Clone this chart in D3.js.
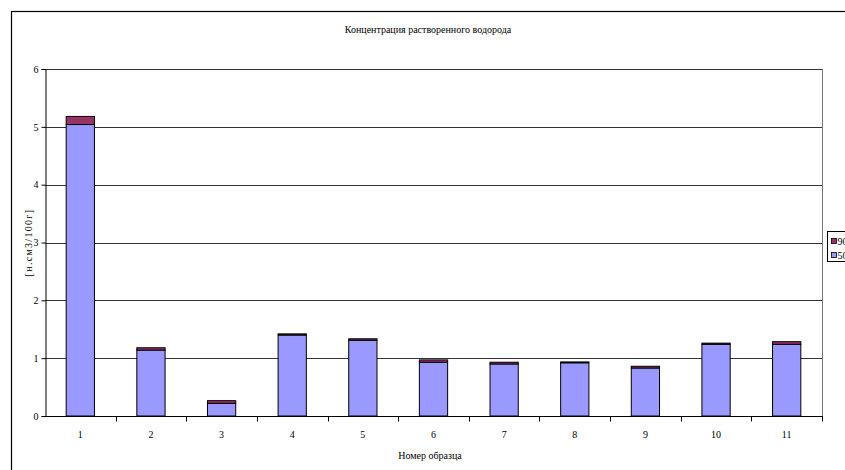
<!DOCTYPE html>
<html>
<head>
<meta charset="utf-8">
<script src="https://cdn.jsdelivr.net/npm/d3@7"></script>
<style>
  html, body { margin: 0; padding: 0; background: #fff; overflow: hidden; }
  svg { display: block; font-family: "Liberation Serif", "Times New Roman", serif; }
</style>
</head>
<body>
<svg id="chart" width="845" height="470"></svg>
<script>
// Sample numbers along the x axis
const samples = ["1", "2", "3", "4", "5", "6", "7", "8", "9", "10", "11"];
// Dissolved hydrogen, lower (blue) stack segment
const series500 = [5.04, 1.14, 0.22, 1.40, 1.31, 0.93, 0.90, 0.92, 0.83, 1.24, 1.24];
// Dissolved hydrogen, upper (crimson) stack segment
const series900 = [0.14, 0.04, 0.045, 0.02, 0.025, 0.04, 0.03, 0.015, 0.03, 0.02, 0.045];
const seriesNames = ["900 °C", "500 °C"];
const yTicks = [0, 1, 2, 3, 4, 5, 6];

const titleText = "Концентрация растворенного водорода";
const xTitle = "Номер образца";
const yTitle = "[н.см3/100г]";

const svg = d3.select("#chart");

// outer chart frame (extends past the right and bottom edges)
svg.append("rect")
  .attr("x", 11.5).attr("y", 11.5)
  .attr("width", 900).attr("height", 500)
  .attr("fill", "#fff").attr("stroke", "#000").attr("stroke-width", 1.2);

const plot = { left: 45, right: 822, top: 69, bottom: 416 };

const x = d3.scaleBand()
  .domain(samples)
  .range([plot.left, plot.right])
  .paddingInner(0.6)
  .paddingOuter(0.3);

const y = d3.scaleLinear().domain([0, 6]).range([plot.bottom, plot.top]);

// horizontal gridlines
svg.append("g")
  .selectAll("line")
  .data(yTicks.filter(d => d > 0))
  .join("line")
  .attr("x1", plot.left).attr("x2", plot.right)
  .attr("y1", d => Math.round(y(d)) + 0.5).attr("y2", d => Math.round(y(d)) + 0.5)
  .attr("stroke", "#333").attr("stroke-width", 1);

// plot area right border
svg.append("line")
  .attr("x1", plot.right + 0.5).attr("x2", plot.right + 0.5)
  .attr("y1", plot.top).attr("y2", plot.bottom + 5)
  .attr("stroke", "#777").attr("stroke-width", 1);

// stacked bars
const stackData = samples.map((s, i) => ({ s, a: series500[i], b: series900[i] }));
const stack = d3.stack().keys(["a", "b"])(stackData);
const colors = ["#9999FF", "#993366"];

svg.append("g")
  .selectAll("g")
  .data(stack)
  .join("g")
  .attr("fill", (d, i) => colors[i])
  .selectAll("rect")
  .data(d => d)
  .join("rect")
  .attr("x", d => x(d.data.s))
  .attr("width", x.bandwidth())
  .attr("y", d => y(d[1]))
  .attr("height", d => y(d[0]) - y(d[1]))
  .attr("stroke", "#000").attr("stroke-width", 1);

// y axis
const yAxis = svg.append("g")
  .attr("transform", `translate(${plot.left + 0.5},0)`)
  .call(d3.axisLeft(y).tickValues(yTicks).tickSize(4).tickPadding(3).tickFormat(d3.format("d")));
yAxis.select(".domain").attr("stroke", "#000");
yAxis.selectAll(".tick line").attr("stroke", "#000");
yAxis.selectAll("text").attr("font-size", 10).attr("fill", "#000")
  .attr("font-family", "Liberation Serif, serif");

// x axis with ticks at category boundaries
const boundaries = samples.map(s => x(s) - x.step() * x.paddingInner() / 2).concat([plot.right]);
const xAxisG = svg.append("g").attr("transform", `translate(0,${plot.bottom + 0.5})`);
xAxisG.append("line")
  .attr("x1", plot.left).attr("x2", plot.right + 1)
  .attr("stroke", "#000");
xAxisG.selectAll("line.tk")
  .data(boundaries.slice(1))
  .join("line").attr("class", "tk")
  .attr("x1", d => Math.round(d) + 0.5).attr("x2", d => Math.round(d) + 0.5)
  .attr("y1", 0).attr("y2", 5)
  .attr("stroke", "#000");
xAxisG.selectAll("text")
  .data(samples)
  .join("text")
  .attr("x", d => x(d) + x.bandwidth() / 2)
  .attr("y", 21)
  .attr("text-anchor", "middle")
  .attr("font-size", 10)
  .text(d => d);

// titles
svg.append("text")
  .attr("x", 428).attr("y", 33)
  .attr("text-anchor", "middle").attr("font-size", 10)
  .text(titleText);

svg.append("text")
  .attr("x", 430).attr("y", 459)
  .attr("text-anchor", "middle").attr("font-size", 10)
  .text(xTitle);

svg.append("text")
  .attr("transform", `translate(32,${(plot.top + plot.bottom) / 2}) rotate(-90)`)
  .attr("text-anchor", "middle").attr("font-size", 10)
  .attr("letter-spacing", 1.3)
  .text(yTitle);

// legend
const legend = svg.append("g").attr("transform", "translate(827.5,231.5)");
legend.append("rect")
  .attr("width", 40).attr("height", 30)
  .attr("fill", "#fff").attr("stroke", "#000");
const legendColors = ["#993366", "#9999FF"];
seriesNames.forEach((name, i) => {
  legend.append("rect")
    .attr("x", 4).attr("y", 7 + i * 14)
    .attr("width", 5).attr("height", 5)
    .attr("fill", legendColors[i]).attr("stroke", "#000").attr("stroke-width", 0.8);
  legend.append("text")
    .attr("x", 10).attr("y", 13 + i * 14)
    .attr("font-size", 10)
    .text(name);
});
</script>
</body>
</html>
